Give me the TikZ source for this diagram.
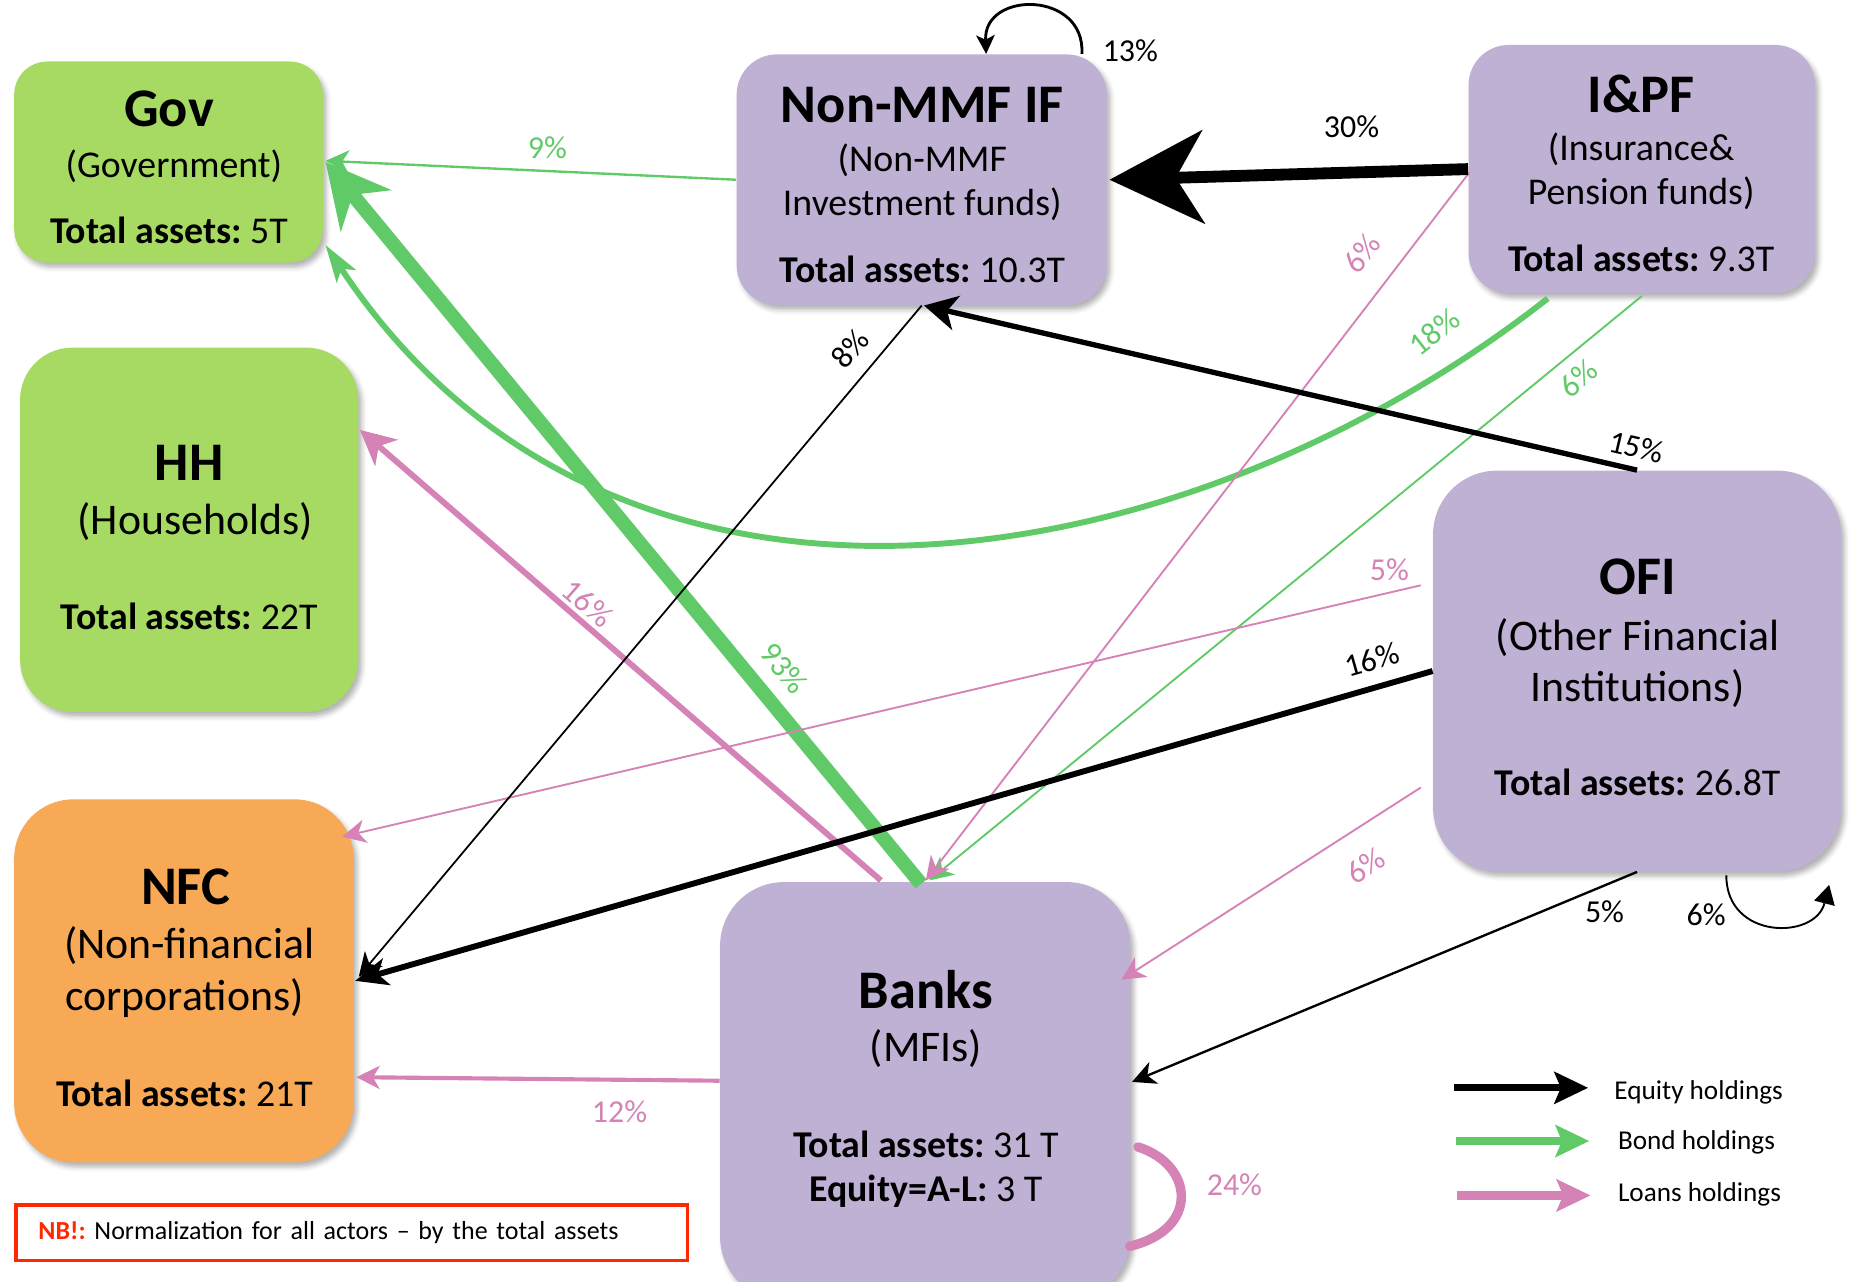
\documentclass[tikz,border=0pt]{standalone}
\usepackage{fontspec}
\setmainfont{Carlito}
\usetikzlibrary{arrows.meta,calc,shadows.blur}
\definecolor{gvgreen}{RGB}{167,218,98}
\definecolor{fipurple}{RGB}{191,177,211}
\definecolor{nforange}{RGB}{247,169,86}
\definecolor{bondgreen}{RGB}{96,202,104}
\definecolor{loanpink}{RGB}{213,131,182}
\definecolor{nbred}{RGB}{255,40,0}
\frenchspacing
\begin{document}
\begin{tikzpicture}[x=0.5pt,y=-0.5pt,
  box/.style={rounded corners=#1, inner sep=0pt,
    blur shadow={shadow xshift=1.5pt, shadow yshift=-2pt, shadow blur radius=2pt, shadow opacity=30}},
  hd/.style={anchor=base, inner sep=0pt, font=\fontsize{23}{28}\selectfont\bfseries},
  sub/.style={anchor=base, inner sep=0pt, font=\fontsize{16}{19}\selectfont},
  subl/.style={anchor=base, inner sep=0pt, font=\fontsize{18.5}{22}\selectfont},
  lab/.style={inner sep=0pt, font=\fontsize{13.5}{16}\selectfont},
  leg/.style={anchor=base west, inner sep=0pt, font=\fontsize{11.5}{14}\selectfont},
  eqty/.style={draw=black},
  bond/.style={draw=bondgreen},
  loan/.style={draw=loanpink},
  tipA/.style={-{Stealth[length=10pt,width=10pt,inset=3pt,line width=0pt]}},
  tipB/.style={-{Stealth[length=14pt,width=12pt,inset=4pt,line width=0pt]}},
  tipC/.style={-{Stealth[length=27pt,width=28pt,inset=9pt,line width=0pt]}},
  tipD/.style={-{Stealth[length=40pt,width=40pt,inset=12pt,line width=0pt]}},
  tipL/.style={-{Stealth[length=14.5pt,width=14pt,inset=3pt,line width=0pt]}}
]
\useasboundingbox (0,0) rectangle (1568,1084);

% ---------- boxes ----------
\node[box=14pt, fill=gvgreen, minimum width=130.5pt, minimum height=85pt] (gov) at (142.5,137) {};
\node[box=17pt, fill=fipurple, minimum width=156.5pt, minimum height=106pt] (nmmf) at (779.5,152) {};
\node[box=17pt, fill=fipurple, minimum width=146.5pt, minimum height=105pt] (ipf) at (1388.5,143) {};
\node[box=22pt, fill=gvgreen, minimum width=143pt, minimum height=154pt] (hh) at (160,448) {};
\node[box=27pt, fill=fipurple, minimum width=172.5pt, minimum height=169.5pt] (ofi) at (1384.5,567.5) {};
\node[box=25pt, fill=nforange, minimum width=143.5pt, minimum height=153.5pt] (nfc) at (155.5,829.5) {};
\node[box=27pt, fill=fipurple, minimum width=173.5pt, minimum height=177pt] (banks) at (782.5,923) {};

% ---------- box texts ----------
\node[hd] (govh) at (143,107) {Gov};
\node[sub] (govs) at (147,150) {(Government)};
\node[sub] (govt) at (143,206) {\textbf{Total assets:} 5T};

\node[hd] (nmmfh) at (780,104) {Non-MMF IF};
\node[sub] (nmmfs1) at (780,145) {(Non-MMF};
\node[sub] (nmmfs2) at (780,182) {Investment funds)};
\node[sub] (nmmft) at (780,239) {\textbf{Total assets:} 10.3T};

\node[hd] (ipfh) at (1388,95) {I\&PF};
\node[sub] (ipfs1) at (1388,136) {(Insurance\&};
\node[sub] (ipfs2) at (1388,173) {Pension funds)};
\node[sub] (ipft) at (1388,230) {\textbf{Total assets:} 9.3T};

\node[hd] (hhh) at (160,406) {HH};
\node[subl] (hhs) at (165,452) {(Households)};
\node[sub] (hht) at (160,532) {\textbf{Total assets:} 22T};

\node[hd] (ofih) at (1385,503) {OFI};
\node[subl] (ofis1) at (1385,550) {(Other Financial};
\node[subl] (ofis2) at (1385,593) {Institutions)};
\node[sub] (ofit) at (1385,673) {\textbf{Total assets:} 26.8T};

\node[hd] (nfch) at (157,765) {NFC};
\node[subl] (nfcs1) at (160,811) {(Non-financial};
\node[subl] (nfcs2) at (156,855) {corporations)};
\node[sub] (nfct) at (156,936) {\textbf{Total assets:} 21T};

\node[hd] (banksh) at (783,853) {Banks};
\node[subl] (bankss) at (783,898) {(MFIs)};
\node[sub] (bankst1) at (783,979) {\textbf{Total assets:} 31 T};
\node[sub] (bankst2) at (783,1016) {\textbf{Equity=A-L:} 3 T};

% ---------- connectors ----------
% bonds
\draw[bond, line width=1pt, tipA] (nmmf.west) -- ($(gov.east)+(2,-1)$);
\draw[bond, line width=2.5pt, -{Stealth[length=16pt,width=10pt,inset=4pt,line width=0pt]}] ($(ipf.south)+(-79.5,4)$) .. controls (1000,495) and (520,575) .. ($(gov.south east)+(2,-15)$);
\draw[bond, line width=0.8pt, tipA] ($(ipf.south)+(0,2)$) -- ($(banks.north)+(3.5,-1)$);
\draw[bond, line width=6pt, tipC] ($(banks.north)+(-3.5,2)$) -- ($(gov.east)+(2,0)$);
% loans
\draw[loan, line width=2.5pt, -{Stealth[length=15pt,width=15pt,inset=4.5pt,line width=0pt]}] ($(banks.north)+(-37.5,-1)$) -- ($(hh.north east)+(1,70)$);
\draw[loan, line width=0.8pt, tipA] ($(ipf.west)+(1,3)$) -- ($(banks.north)+(0.5,-1)$);
\draw[loan, line width=0.8pt, tipA] ($(ofi.west)+(-10,-72.5)$) -- ($(nfc.north east)+(-10,32)$);
\draw[loan, line width=0.8pt, tipA] ($(ofi.west)+(-10,98.5)$) -- ($(banks.north east)+(-8,83)$);
\draw[loan, line width=1.75pt, tipA] ($(banks.west)+(0,-9)$) -- ($(nfc.east)+(2,81.5)$);
\draw[loan, line width=4pt, line cap=round] ($(banks.east)+(-1,131)$) .. controls (1015,1040) and (1010,985) .. ($(banks.east)+(6,47)$);
% equity
\draw[eqty, line width=5pt, tipD] (ipf.west) -- ($(nmmf.east)+(2,0)$);
\draw[eqty, line width=1.2pt, -{Stealth[length=8pt,width=8pt,inset=2pt,line width=0pt]}] ($(nmmf.north)+(135.5,0)$) .. controls (918,-8) and (832,-8) .. ($(nmmf.north)+(54.5,0)$);
\draw[eqty, line width=2.25pt, -{Stealth[length=14pt,width=15pt,inset=4pt,line width=0pt]}] (ofi.north) -- ($(nmmf.south)+(2,0)$);
\draw[eqty, line width=0.75pt, tipA] (nmmf.south) -- ($(nfc.east)+(4,-3.5)$);
\draw[eqty, line width=2.5pt, tipB] (ofi.west) -- ($(nfc.east)+(1,0)$);
\draw[eqty, line width=1pt, tipA] (ofi.south) -- ($(banks.east)+(1,-8)$);
\draw[eqty, line width=0.8pt, -{Triangle[length=8pt,width=9pt,line width=0pt]}] ($(ofi.south)+(75.5,3)$) .. controls (1460,795) and (1535,795) .. ($(ofi.south)+(162.5,11)$);

% ---------- labels ----------
\node[lab, text=bondgreen] (l9) at (463,125) {9\%};
\node[lab, text=bondgreen, rotate=-50.5] (l93) at (663,565) {93\%};
\node[lab, text=bondgreen, rotate=38] (l18) at (1213,281) {18\%};
\node[lab, text=bondgreen, rotate=39.7] (l6g) at (1335,320) {6\%};
\node[lab, text=loanpink, rotate=-41] (l16p) at (497,510) {16\%};
\node[lab, text=loanpink, rotate=52.7] (l6p) at (1152,214) {6\%};
\node[lab, text=loanpink] (l5p) at (1175,482) {5\%};
\node[lab, text=loanpink, rotate=32.7] (l6p2) at (1155,732) {6\%};
\node[lab, text=loanpink] (l12) at (524,940) {12\%};
\node[lab, text=loanpink] (l24) at (1044,1002) {24\%};
\node[lab] (l30) at (1143,107) {30\%};
\node[lab] (l13) at (956,43) {13\%};
\node[lab, rotate=-13.2] (l15) at (1384,378) {15\%};
\node[lab, rotate=50.2] (l8) at (719,295) {8\%};
\node[lab, rotate=15.9] (l16) at (1160,558) {16\%};
\node[lab] (l5) at (1357,771) {5\%};
\node[lab] (l6) at (1443,774) {6\%};

% ---------- legend ----------
\coordinate (le1) at (1230,920); \coordinate (le2) at (1343,920);
\coordinate (lb1) at (1231,965); \coordinate (lb2) at (1344,965);
\coordinate (ll1) at (1232,1011); \coordinate (ll2) at (1345,1011);
\draw[eqty, line width=3pt, tipL] (le1) -- (le2);
\draw[bond, line width=3.5pt, tipL] (lb1) -- (lb2);
\draw[loan, line width=3.5pt, tipL] (ll1) -- (ll2);
\node[leg] (leqt) at (1365,930) {Equity holdings};
\node[leg] (lbdt) at (1368,972.5) {Bond holdings};
\node[leg] (llnt) at (1368,1016.5) {Loans holdings};

% ---------- note ----------
\node[draw=nbred, line width=1.5pt, anchor=west, inner xsep=9.5pt, inner ysep=0pt,
  text width=265pt, minimum height=23.5pt, align=left,
  font=\fontsize{11}{13}\selectfont] (nb) at (12,1042.5)
  {\textcolor{nbred}{\textbf{NB!:}} Normalization for all actors – by the total assets};
\end{tikzpicture}
\end{document}
